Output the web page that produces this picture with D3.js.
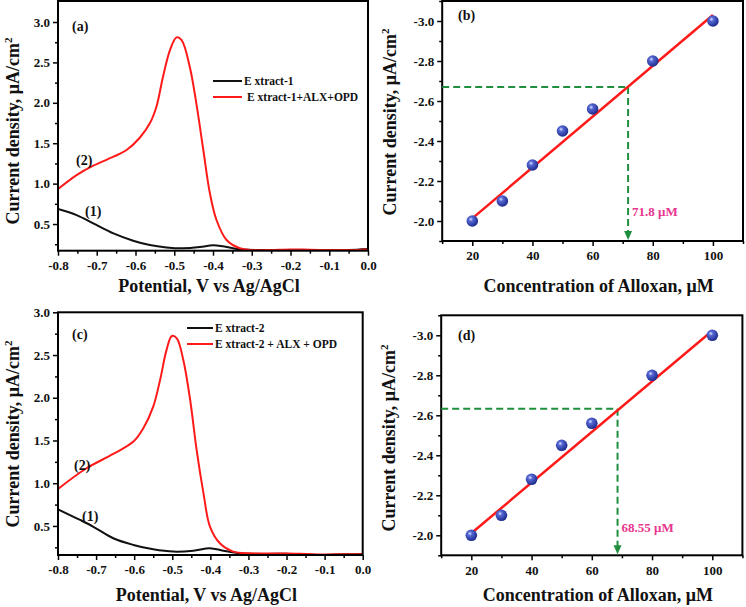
<!DOCTYPE html>
<html><head><meta charset="utf-8">
<script src="https://cdn.jsdelivr.net/npm/d3@7"></script>
<style>
body{margin:0;background:#fff}
svg{display:block}
text{font-family:"Liberation Serif","Times New Roman",serif;font-weight:bold;fill:#111}
</style>
</head><body>
<svg id="chart" width="746" height="607"></svg>
<script>
// ---------- data ----------
const cvTicksX = [-0.8,-0.7,-0.6,-0.5,-0.4,-0.3,-0.2,-0.1,0.0];
const cvMinorX = [-0.75,-0.65,-0.55,-0.45,-0.35,-0.25,-0.15,-0.05];
const cvTicksY = [0.5,1.0,1.5,2.0,2.5,3.0];
const cvMinorY = [0.25,0.75,1.25,1.75,2.25,2.75];

// panel (a)
const extract1 = [[-0.8,0.686],[-0.752,0.611],[-0.709,0.508],[-0.657,0.384],[-0.606,0.294],[-0.563,0.24],[-0.52,0.211],[-0.477,0.2],[-0.434,0.215],[-0.4,0.238],[-0.374,0.225],[-0.331,0.188],[-0.262,0.178],[-0.2,0.18],[-0.15,0.176],[-0.1,0.176],[-0.05,0.178],[0.0,0.19]];
const extract1ALX = [[-0.8,0.933],[-0.752,1.106],[-0.709,1.222],[-0.657,1.333],[-0.623,1.416],[-0.589,1.568],[-0.563,1.746],[-0.546,1.952],[-0.529,2.323],[-0.511,2.653],[-0.494,2.81],[-0.481,2.777],[-0.46,2.447],[-0.443,1.993],[-0.425,1.416],[-0.408,0.88],[-0.391,0.55],[-0.365,0.302],[-0.331,0.2],[-0.297,0.178],[-0.25,0.18],[-0.2,0.186],[-0.15,0.182],[-0.1,0.178],[-0.05,0.178],[0.0,0.185]];

// panel (c)
const extract2 = [[-0.8,0.695],[-0.742,0.57],[-0.707,0.49],[-0.655,0.356],[-0.602,0.278],[-0.55,0.227],[-0.497,0.2],[-0.445,0.21],[-0.401,0.24],[-0.366,0.21],[-0.322,0.18],[-0.252,0.172],[-0.2,0.175],[-0.165,0.165],[-0.1,0.16],[-0.05,0.168],[0.0,0.172]];
const extract2ALX = [[-0.8,0.933],[-0.725,1.175],[-0.655,1.342],[-0.602,1.487],[-0.576,1.643],[-0.55,1.896],[-0.532,2.208],[-0.515,2.56],[-0.501,2.723],[-0.488,2.696],[-0.471,2.442],[-0.453,1.974],[-0.436,1.389],[-0.418,0.882],[-0.401,0.492],[-0.375,0.297],[-0.34,0.2],[-0.296,0.18],[-0.25,0.178],[-0.2,0.178],[-0.15,0.172],[-0.1,0.165],[-0.05,0.17],[0.0,0.168]];

// calibration panels (b), (d)
const concTicksX = [20,40,60,80,100];
const concMinorX = [10,30,50,70,90,110];
const densTicksY = [-2.0,-2.2,-2.4,-2.6,-2.8,-3.0];
const densMinorY = [-1.9,-2.1,-2.3,-2.5,-2.7,-2.9,-3.1];
const concentration = [20,30,40,50,60,80,100];
const densityB = [-2.0,-2.1,-2.28,-2.45,-2.56,-2.8,-3.0];
const densityD = [-2.0,-2.1,-2.28,-2.45,-2.56,-2.8,-3.0];
const fitB = [[20,-2.013],[100,-3.03]];
const fitD = [[20,-2.01],[100,-3.023]];
const unknownB = [71.8,-2.67];
const unknownD = [68.55,-2.633];
const unknownLabels = ["71.8 μM","68.55 μM"];

// ---------- drawing ----------
const svg = d3.select("#chart");
const fmt = v => d3.format(".1f")(v).replace("−","-");

const defs = svg.append("defs");
const grad = defs.append("radialGradient").attr("id","sphere").attr("cx","38%").attr("cy","35%").attr("r","65%");
grad.append("stop").attr("offset","0%").attr("stop-color","#dfe4ff");
grad.append("stop").attr("offset","28%").attr("stop-color","#5668d4");
grad.append("stop").attr("offset","100%").attr("stop-color","#1c2a8c");

function axes(g, x, y, majX, minX, majY, minY, fmtX, fmtY){
  const [x0,x1] = x.range(), [y0,y1] = y.range();
  g.append("g").attr("transform",`translate(0,${y0})`)
    .call(d3.axisBottom(x).tickValues(minX).tickSize(3).tickFormat(""))
    .call(s=>{s.select(".domain").remove(); s.selectAll("line").attr("stroke","#000").attr("stroke-width",1.5);});
  g.append("g").attr("transform",`translate(${x0},0)`)
    .call(d3.axisLeft(y).tickValues(minY).tickSize(3).tickFormat(""))
    .call(s=>{s.select(".domain").remove(); s.selectAll("line").attr("stroke","#000").attr("stroke-width",1.5);});
  g.append("g").attr("transform",`translate(0,${y0})`)
    .call(d3.axisBottom(x).tickValues(majX).tickSize(5).tickPadding(5).tickFormat(fmtX))
    .call(s=>{s.select(".domain").remove(); s.selectAll("line").attr("stroke","#000").attr("stroke-width",1.5);
      s.selectAll("text").attr("font-size",13).attr("fill","#111").attr("font-family",null);});
  g.append("g").attr("transform",`translate(${x0},0)`)
    .call(d3.axisLeft(y).tickValues(majY).tickSize(5).tickPadding(3).tickFormat(fmtY))
    .call(s=>{s.select(".domain").remove(); s.selectAll("line").attr("stroke","#000").attr("stroke-width",1.5);
      s.selectAll("text").attr("font-size",13).attr("fill","#111").attr("font-family",null);});
  g.append("rect").attr("x",x0).attr("y",y1).attr("width",x1-x0).attr("height",y0-y1)
    .attr("fill","none").attr("stroke","#000").attr("stroke-width",2);
}

function yTitle(g, xPos, yMid){
  const t = g.append("text").attr("transform",`translate(${xPos},${yMid}) rotate(-90)`)
    .attr("text-anchor","middle").attr("font-size",18);
  t.append("tspan").text("Current density, μA/cm");
  t.append("tspan").attr("font-size",11).attr("dy",-7).text("2");
}

function cvPanel(cfg){
  const g = svg.append("g");
  const x = d3.scaleLinear().domain([-0.8,0]).range(cfg.xr);
  const y = d3.scaleLinear().domain(cfg.yd).range(cfg.yr);
  const clipId = "clip"+cfg.id;
  defs.append("clipPath").attr("id",clipId).append("rect")
    .attr("x",cfg.xr[0]).attr("y",cfg.yr[1]).attr("width",cfg.xr[1]-cfg.xr[0]).attr("height",cfg.yr[0]-cfg.yr[1]);
  const line = d3.line().x(d=>x(d[0])).y(d=>y(d[1])).curve(d3.curveCatmullRom.alpha(0.5));
  const pg = g.append("g").attr("clip-path",`url(#${clipId})`);
  pg.append("path").datum(cfg.black).attr("d",line).attr("fill","none").attr("stroke","#111").attr("stroke-width",2);
  pg.append("path").datum(cfg.red).attr("d",line).attr("fill","none").attr("stroke","#ff1a1a").attr("stroke-width",2);
  axes(g,x,y,cvTicksX,cvMinorX,cvTicksY,cvMinorY,fmt,fmt);
  const L = cfg.legend;
  g.append("line").attr("x1",L.x).attr("x2",L.x+L.w).attr("y1",L.y).attr("y2",L.y).attr("stroke","#111").attr("stroke-width",2);
  g.append("line").attr("x1",L.x).attr("x2",L.x+L.w).attr("y1",L.y+L.dy).attr("y2",L.y+L.dy).attr("stroke","#ff1a1a").attr("stroke-width",2);
  g.append("text").attr("x",L.x+L.w+2).attr("y",L.y+4).attr("font-size",11.5).text(L.t1);
  g.append("text").attr("x",L.x+L.w+L.o2).attr("y",L.y+L.dy+4).attr("font-size",11.5).text(L.t2);
  g.append("text").attr("x",cfg.lab[0]).attr("y",cfg.lab[1]).attr("font-size",14).text(cfg.letter);
  g.append("text").attr("x",cfg.l2[0]).attr("y",cfg.l2[1]).attr("font-size",14).text("(2)");
  g.append("text").attr("x",cfg.l1[0]).attr("y",cfg.l1[1]).attr("font-size",14).text("(1)");
  g.append("text").attr("x",(cfg.xr[0]+cfg.xr[1])/2-4).attr("y",cfg.yr[0]+cfg.tOff).attr("text-anchor","middle").attr("font-size",18).text("Potential, V vs Ag/AgCl");
  yTitle(g, 19, cfg.ytMid);
}

function calPanel(cfg){
  const g = svg.append("g");
  const x = d3.scaleLinear().domain([10,110]).range(cfg.xr);
  const y = d3.scaleLinear().domain([-1.9,-3.1]).range(cfg.yr);
  axes(g,x,y,concTicksX,concMinorX,densTicksY,densMinorY,d3.format("d"),fmt);
  const green = "#1f8f3f";
  const [ux,uy] = cfg.unknown;
  g.append("line").attr("x1",cfg.xr[0]).attr("x2",x(ux)).attr("y1",y(uy)).attr("y2",y(uy))
    .attr("stroke",green).attr("stroke-width",2).attr("stroke-dasharray","7,4");
  g.append("line").attr("x1",x(ux)).attr("x2",x(ux)).attr("y1",y(uy)).attr("y2",cfg.yr[0]-8)
    .attr("stroke",green).attr("stroke-width",2).attr("stroke-dasharray","7,4");
  const b = cfg.yr[0], ax = x(ux);
  g.append("path").attr("d",`M${ax-4},${b-10}L${ax+4},${b-10}L${ax},${b-1}Z`).attr("fill",green);
  const line = d3.line().x(d=>x(d[0])).y(d=>y(d[1]));
  g.append("path").datum(cfg.fit).attr("d",line).attr("stroke","#ff1a1a").attr("stroke-width",2.5).attr("fill","none");
  g.selectAll("circle.pt").data(concentration.map((c,i)=>[c,cfg.dens[i]])).join("circle")
    .attr("class","pt").attr("cx",d=>x(d[0])).attr("cy",d=>y(d[1])).attr("r",5.8).attr("fill","url(#sphere)");
  g.append("text").attr("x",ax+4).attr("y",y(cfg.labY)+5).attr("font-size",13).style("fill","#e8358e").text(cfg.utext);
  g.append("text").attr("x",cfg.lab[0]).attr("y",cfg.lab[1]).attr("font-size",14).text(cfg.letter);
  g.append("text").attr("x",(cfg.xr[0]+cfg.xr[1])/2+6).attr("y",cfg.yr[0]+cfg.tOff).attr("text-anchor","middle").attr("font-size",18).text("Concentration of Alloxan, μM");
  yTitle(g, cfg.xr[0]-46, cfg.ytMid);
}

cvPanel({id:"a", xr:[58,368], yr:[250.7,1], yd:[0.17,3.26], black:extract1, red:extract1ALX,
  legend:{x:213,w:29,y:81,dy:16,o2:5,t1:"E xtract-1",t2:"E xtract-1+ALX+OPD"},
  lab:[72,31], letter:"(a)", l2:[76,165], l1:[85,216], ytMid:131, tOff:41});
cvPanel({id:"c", xr:[58,362.7], yr:[555,312.3], yd:[0.16,3.0], black:extract2, red:extract2ALX,
  legend:{x:187,w:26,y:328,dy:16,o2:2,t1:"E xtract-2",t2:"E xtract-2 + ALX + OPD"},
  lab:[72,339], letter:"(c)", l2:[74,470], l1:[82,521], ytMid:434, tOff:46});
calPanel({xr:[442.2,743], yr:[241,1], dens:densityB, fit:fitB, unknown:unknownB, utext:unknownLabels[0], labY:-2.05,
  lab:[458,20], letter:"(b)", ytMid:122, tOff:51});
calPanel({xr:[441.2,742.4], yr:[555.3,315.3], dens:densityD, fit:fitD, unknown:unknownD, utext:unknownLabels[1], labY:-2.043,
  lab:[458,340], letter:"(d)", ytMid:438, tOff:46});
</script>
</body></html>
